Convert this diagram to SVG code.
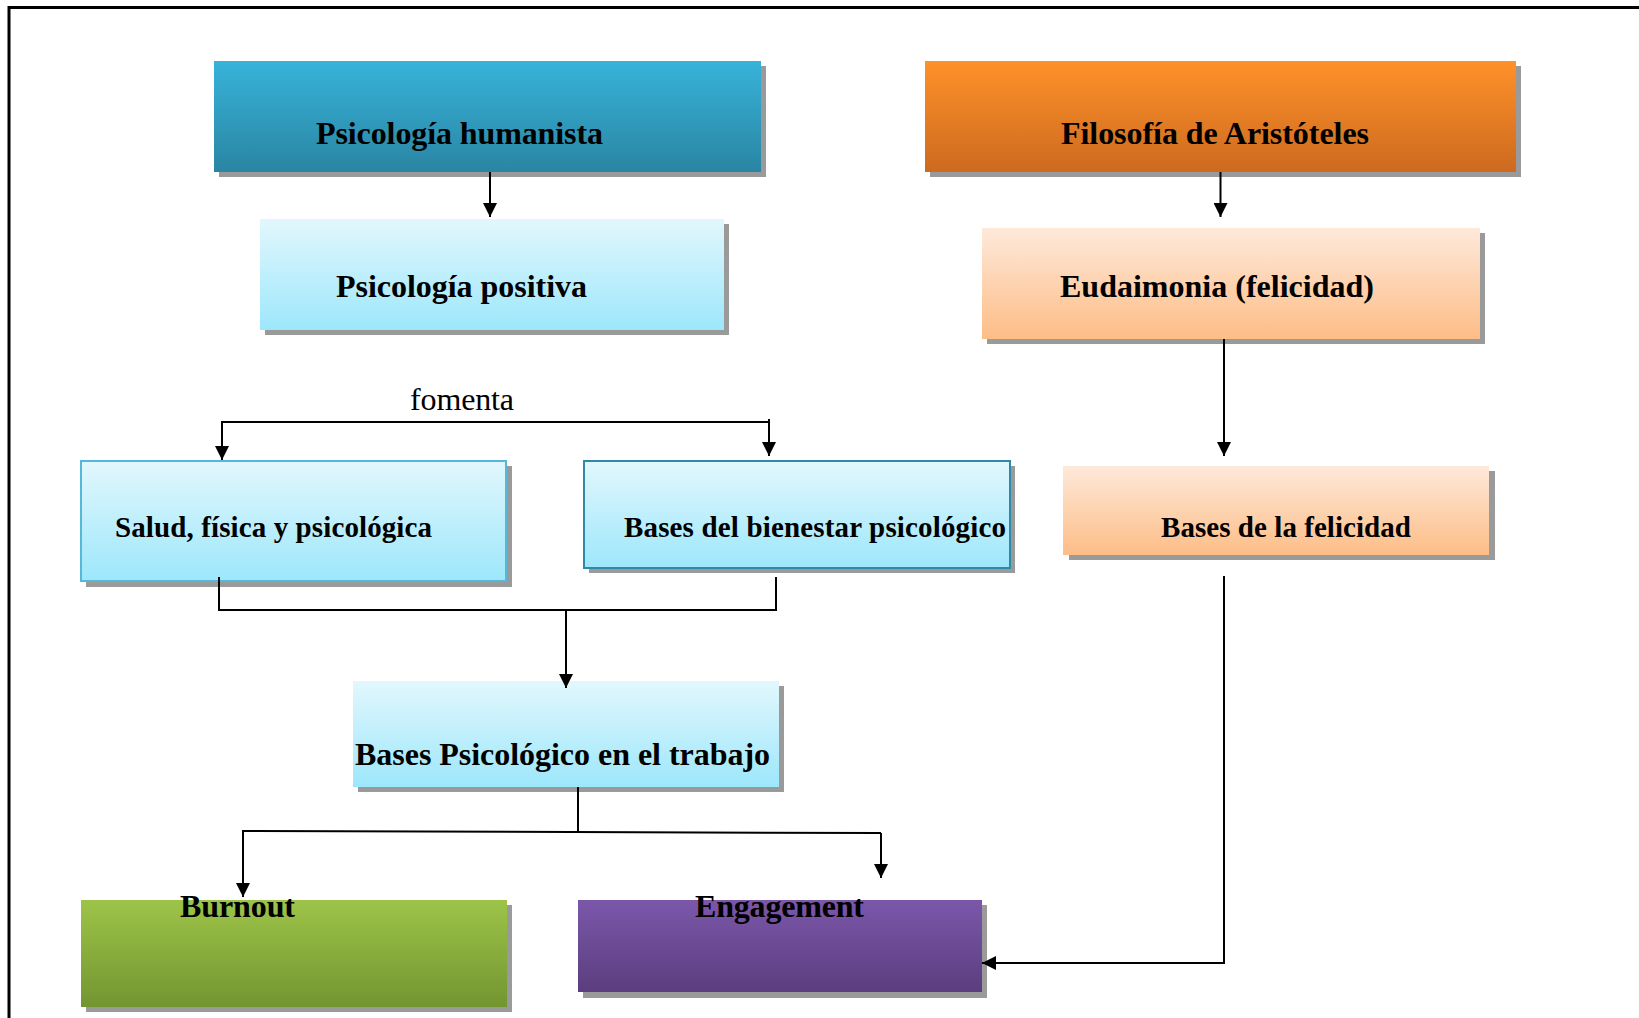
<svg xmlns="http://www.w3.org/2000/svg" width="1639" height="1018" viewBox="0 0 1639 1018">
<defs>
<linearGradient id="gBlue" x1="0" y1="0" x2="0" y2="1"><stop offset="0" stop-color="#37b3d9"/><stop offset="1" stop-color="#2a85a3"/></linearGradient>
<linearGradient id="gLight" x1="0" y1="0" x2="0" y2="1"><stop offset="0" stop-color="#e2f7fd"/><stop offset="1" stop-color="#9de7fb"/></linearGradient>
<linearGradient id="gOrange" x1="0" y1="0" x2="0" y2="1"><stop offset="0" stop-color="#ff9129"/><stop offset="1" stop-color="#cc6a1f"/></linearGradient>
<linearGradient id="gPeach" x1="0" y1="0" x2="0" y2="1"><stop offset="0" stop-color="#fee9da"/><stop offset="1" stop-color="#fdbd87"/></linearGradient>
<linearGradient id="gGreen" x1="0" y1="0" x2="0" y2="1"><stop offset="0" stop-color="#9dc449"/><stop offset="1" stop-color="#739530"/></linearGradient>
<linearGradient id="gPurple" x1="0" y1="0" x2="0" y2="1"><stop offset="0" stop-color="#7b57aa"/><stop offset="1" stop-color="#5b3e7e"/></linearGradient>
<marker id="arr" viewBox="0 0 14 14" refX="14" refY="7" markerWidth="14" markerHeight="14" markerUnits="userSpaceOnUse" orient="auto"><path d="M0,0 L14,7 L0,14 z" fill="#000"/></marker>
<style>
.sh{fill:#9a9a9a}
.t{font-family:"Liberation Serif","Times New Roman",serif;font-weight:bold;fill:#000}
.big{font-size:32px}
.mid{font-size:29px}
.reg{font-family:"Liberation Serif","Times New Roman",serif;font-size:32px;fill:#000}
.ln{fill:none;stroke:#000;stroke-width:2}
.ar{fill:none;stroke:#000;stroke-width:2;marker-end:url(#arr)}
</style>
</defs>
<rect x="9" y="7.5" width="1700" height="1100" fill="#fff" stroke="#000" stroke-width="3"/>

<g id="n-humanista">
<rect class="sh" x="219" y="66" width="547" height="111"/>
<rect x="214" y="61" width="547" height="111" fill="url(#gBlue)"/>
<text class="t big" x="316" y="144" textLength="287">Psicología humanista</text>
</g>
<g id="n-positiva">
<rect class="sh" x="265" y="224" width="464" height="111"/>
<rect x="260" y="219" width="464" height="111" fill="url(#gLight)"/>
<text class="t big" x="336" y="297" textLength="251">Psicología positiva</text>
</g>
<g id="n-aristoteles">
<rect class="sh" x="930" y="66" width="591" height="111"/>
<rect x="925" y="61" width="591" height="111" fill="url(#gOrange)"/>
<text class="t big" x="1061" y="144" textLength="308">Filosofía de Aristóteles</text>
</g>
<g id="n-eudaimonia">
<rect class="sh" x="987" y="233" width="498" height="111"/>
<rect x="982" y="228" width="498" height="111" fill="url(#gPeach)"/>
<text class="t big" x="1060" y="297" textLength="314">Eudaimonia (felicidad)</text>
</g>
<g id="n-salud">
<rect class="sh" x="86" y="466" width="426" height="121"/>
<rect x="81" y="461" width="425" height="120" fill="url(#gLight)" stroke="#55b8d8" stroke-width="2"/>
<text class="t mid" x="115" y="537" textLength="317">Salud, física y psicológica</text>
</g>
<g id="n-bienestar">
<rect class="sh" x="589" y="466" width="426" height="107"/>
<rect x="584" y="461" width="426" height="107" fill="url(#gLight)" stroke="#2f8aa8" stroke-width="2"/>
<text class="t mid" x="624" y="537" textLength="382">Bases del bienestar psicológico</text>
</g>
<g id="n-felicidad">
<rect class="sh" x="1069" y="471" width="426" height="89"/>
<rect x="1063" y="466" width="426" height="89" fill="url(#gPeach)"/>
<text class="t mid" x="1161" y="537" textLength="250">Bases de la felicidad</text>
</g>
<g id="n-trabajo">
<rect class="sh" x="358" y="686" width="426" height="106"/>
<rect x="353" y="681" width="426" height="106" fill="url(#gLight)"/>
<text class="t big" x="355" y="765" textLength="415">Bases Psicológico en el trabajo</text>
</g>
<g id="n-burnout">
<rect class="sh" x="86" y="905" width="426" height="107"/>
<rect x="81" y="900" width="426" height="107" fill="url(#gGreen)"/>
<text class="t big" x="180" y="917" textLength="115">Burnout</text>
</g>
<g id="n-engagement">
<rect class="sh" x="583" y="905" width="404" height="93"/>
<rect x="578" y="900" width="404" height="92" fill="url(#gPurple)"/>
<text class="t big" x="695" y="917" textLength="169">Engagement</text>
</g>

<g id="connectors">
<line class="ar" x1="490" y1="172" x2="490" y2="217"/>
<line class="ar" x1="1220.5" y1="172" x2="1220.5" y2="217"/>
<line class="ar" x1="1224" y1="339" x2="1224" y2="456"/>
<text class="reg" x="410" y="410" textLength="104">fomenta</text>
<polyline class="ar" points="769,419 769,422 222,422 222,460"/>
<line class="ar" x1="769" y1="420" x2="769" y2="456"/>
<polyline class="ln" points="219,577 219,610 776,610 776,577"/>
<line class="ar" x1="566" y1="610" x2="566" y2="688"/>
<line class="ln" x1="578" y1="787" x2="578" y2="832"/>
<polyline class="ar" points="881,833 243,831 243,897"/>
<polyline class="ar" points="881,833 881,878"/>
<polyline class="ar" points="1224,576 1224,963 982,963"/>
</g>
</svg>
